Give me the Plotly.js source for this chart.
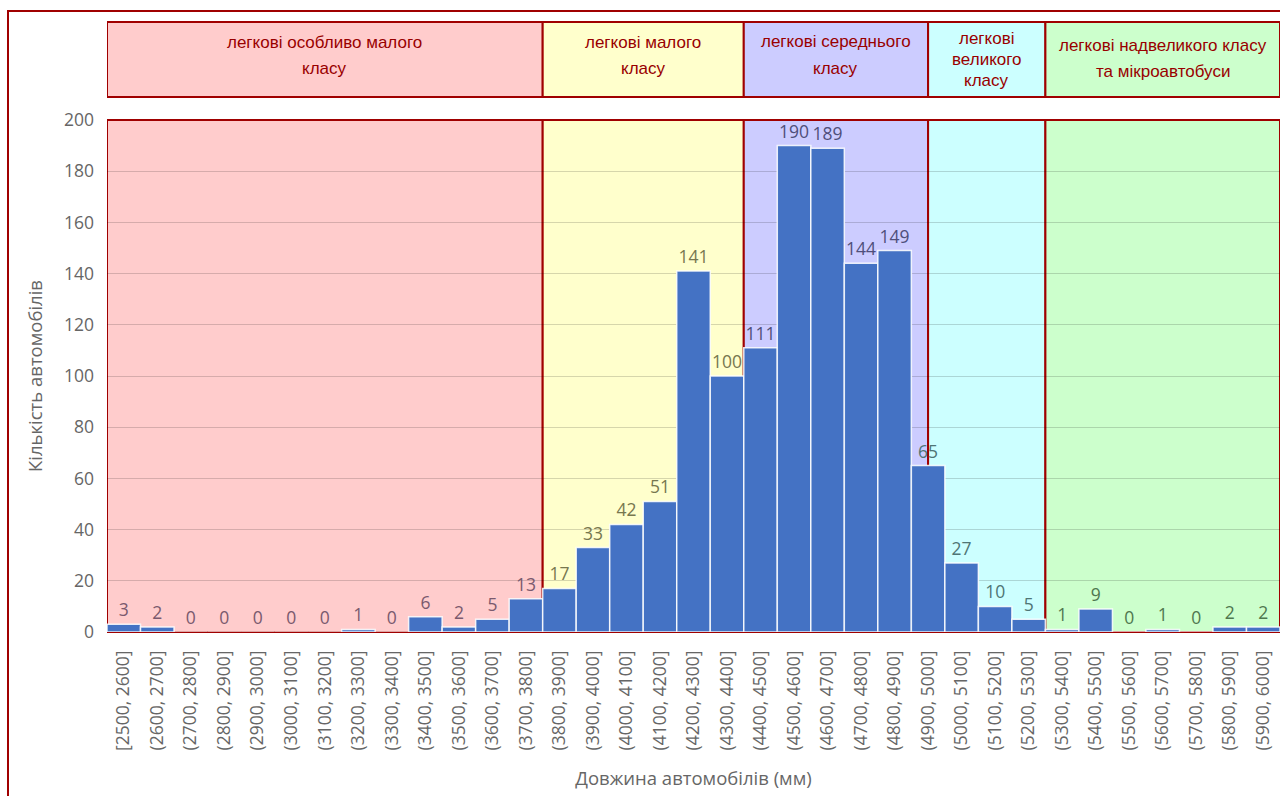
<!DOCTYPE html>
<html>
<head>
<meta charset="utf-8">
<script src="https://cdn.plot.ly/plotly-3.0.1.min.js"></script>
<style>html,body{margin:0;padding:0;background:#fff;}#chart{width:1280px;height:796px;}</style>
</head>
<body>
<div id="chart"></div>
<script>
// ---- data ----
const binLabels = [
  "[2500, 2600]","(2600, 2700]","(2700, 2800]","(2800, 2900]","(2900, 3000]",
  "(3000, 3100]","(3100, 3200]","(3200, 3300]","(3300, 3400]","(3400, 3500]",
  "(3500, 3600]","(3600, 3700]","(3700, 3800]","(3800, 3900]","(3900, 4000]",
  "(4000, 4100]","(4100, 4200]","(4200, 4300]","(4300, 4400]","(4400, 4500]",
  "(4500, 4600]","(4600, 4700]","(4700, 4800]","(4800, 4900]","(4900, 5000]",
  "(5000, 5100]","(5100, 5200]","(5200, 5300]","(5300, 5400]","(5400, 5500]",
  "(5500, 5600]","(5600, 5700]","(5700, 5800]","(5800, 5900]","(5900, 6000]"
];
const counts = [3,2,0,0,0,0,0,1,0,6,2,5,13,17,33,42,51,141,100,111,190,189,144,149,65,27,10,5,1,9,0,1,0,2,2];
const binStartMm = 2500;
const binWidthMm = 100;
// class boundaries (mm)
const classBoundsMm = [2500, 3800, 4400, 4950, 5300, 6000];
const classNames = [
  ["легкові особливо малого", "класу"],
  ["легкові малого", "класу"],
  ["легкові середнього", "класу"],
  ["легкові", "великого", "класу"],
  ["легкові надвеликого класу", "та мікроавтобуси"]
];
const xTitle = "Довжина автомобілів (мм)";
const yTitle = "Кількість автомобілів";

// ---- styles ----
const classFill = ["#FFCCCC", "#FFFFCC", "#CCCCFF", "#CCFFFF", "#CCFFCC"];
const classText = ["#7a5a6e", "#77774f", "#4f4f7a", "#4f7575", "#4f774f"];
const frameRed = "#a00000";
const headerLineY = [[42, 68], [42, 68], [41, 68], [38, 59, 80], [45, 71]];

const H = 796, T = 120, B = 164, plotH = H - T - B;
const pyToPaper = py => (H - B - py) / plotH;
const mmToX = mm => (mm - binStartMm) / binWidthMm - 0.5;

// label colour per bar by class
const barTextColors = counts.map((c, i) => {
  const mid = binStartMm + (i + 0.5) * binWidthMm;
  let k = 0;
  for (let j = 0; j < classNames.length; j++) if (mid >= classBoundsMm[j] && mid < classBoundsMm[j + 1]) k = j;
  return classText[k];
});

const shapes = [];
const annotations = [];
for (let j = 0; j < classNames.length; j++) {
  const x0 = mmToX(classBoundsMm[j]), x1 = mmToX(classBoundsMm[j + 1]);
  // plot region
  shapes.push({type: "rect", layer: "below", xref: "x", yref: "paper", x0: x0, x1: x1, y0: 0, y1: 1,
    fillcolor: classFill[j], line: {color: frameRed, width: 2}});
  // header box
  shapes.push({type: "rect", layer: "above", xref: "x", yref: "paper", x0: x0, x1: x1,
    y0: pyToPaper(97), y1: pyToPaper(22), fillcolor: classFill[j], line: {color: frameRed, width: 2}});
  classNames[j].forEach((line, li) => {
    annotations.push({xref: "x", yref: "paper", x: (x0 + x1) / 2, y: pyToPaper(headerLineY[j][li]),
      text: line, showarrow: false, xanchor: "center", yanchor: "middle",
      font: {family: "Liberation Sans, Arial, sans-serif", size: 17, color: "#990000"}});
  });
}
// outer frame
shapes.push({type: "rect", layer: "above", xref: "paper", yref: "paper",
  x0: (8 - 107) / 1173, x1: 1.01, y0: -0.4, y1: pyToPaper(11), line: {color: frameRed, width: 2}, fillcolor: "rgba(0,0,0,0)"});

const trace = {
  type: "bar",
  x: binLabels.map((_, i) => i),
  y: counts,
  text: counts.map(String),
  textposition: "outside",
  cliponaxis: false,
  textfont: {family: "Open Sans, sans-serif", size: 17.5, color: barTextColors},
  marker: {color: "#4472C4", line: {color: "rgba(255,255,255,0.85)", width: 1.5}},
  hoverinfo: "skip"
};

const layout = {
  width: 1280, height: 796,
  margin: {l: 107, r: 0, t: T, b: B},
  paper_bgcolor: "#ffffff",
  plot_bgcolor: "#ffffff",
  showlegend: false,
  bargap: 0,
  font: {family: "Open Sans, sans-serif", color: "#595959"},
  xaxis: {
    type: "linear",
    range: [-0.5, binLabels.length - 0.5],
    tickmode: "array",
    tickvals: binLabels.map((_, i) => i),
    ticktext: binLabels,
    tickangle: -90,
    tickfont: {family: "Open Sans, sans-serif", size: 17.5, color: "#666666"},
    ticks: "",
    ticklabelstandoff: 14,
    showgrid: false, zeroline: false, showline: false,
    title: {text: xTitle, standoff: 21, font: {family: "Open Sans, sans-serif", size: 18.5, color: "#666666"}},
    automargin: false
  },
  yaxis: {
    range: [0, 200],
    dtick: 20,
    tickfont: {family: "Open Sans, sans-serif", size: 17.5, color: "#666666"},
    ticklabelstandoff: 12,
    showgrid: true, gridcolor: "rgba(0,0,0,0.16)", gridwidth: 1,
    zeroline: false, showline: false,
    title: {text: yTitle, standoff: 16, font: {family: "Open Sans, sans-serif", size: 18.5, color: "#666666"}},
    automargin: false
  },
  shapes: shapes,
  annotations: annotations
};

Plotly.newPlot("chart", [trace], layout, {displayModeBar: false, staticPlot: true});
</script>
</body>
</html>
